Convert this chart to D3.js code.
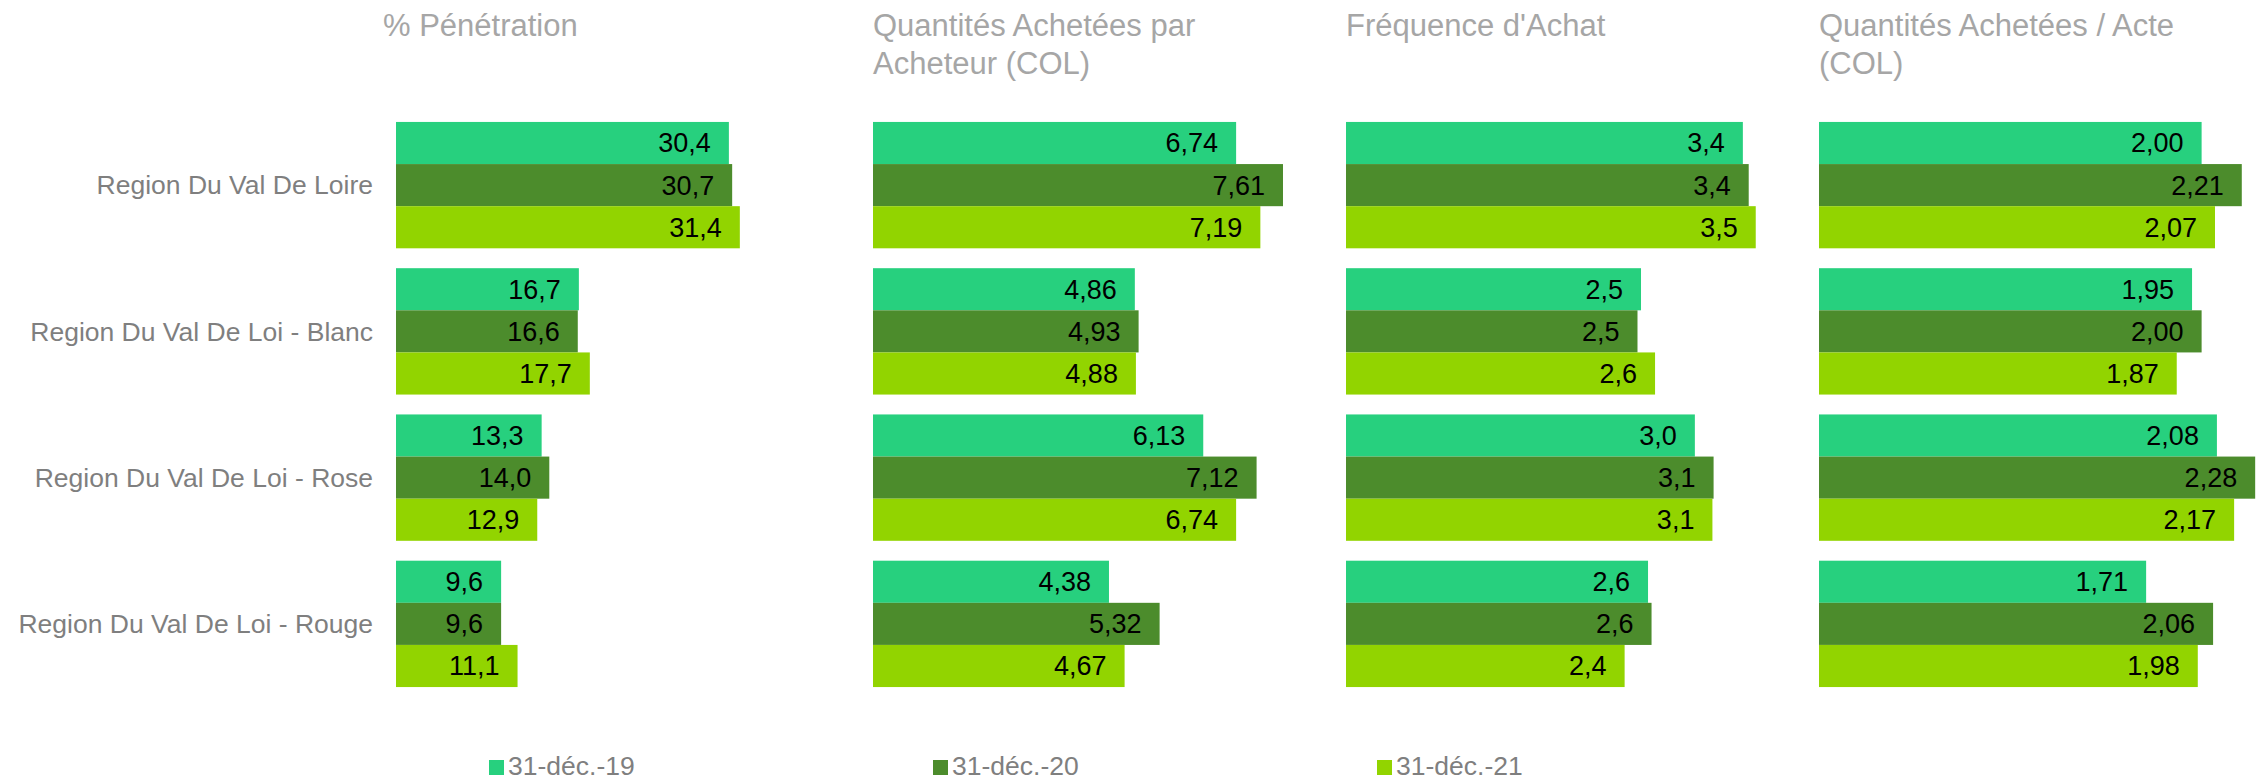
<!DOCTYPE html>
<html>
    <head>
        <meta charset="utf-8">
        <title>Pénétration et quantités</title>
        <style>
            body{
                margin:0;
                background:#fff;
            }
            text{
                font-family:"Liberation Sans", Arial, sans-serif;
            }
        </style>
    </head>
    <body>
        <script src="https://cdnjs.cloudflare.com/ajax/libs/d3/7.8.5/d3.min.js"></script>
        <script>

            // data
            var categories = ["Region Du Val De Loire", "Region Du Val De Loi - Blanc",
                              "Region Du Val De Loi - Rose", "Region Du Val De Loi - Rouge"];
            var seriesNames = ["31-déc.-19", "31-déc.-20", "31-déc.-21"];

            var titles = [["% Pénétration"],
                          ["Quantités Achetées par", "Acheteur (COL)"],
                          ["Fréquence d'Achat"],
                          ["Quantités Achetées / Acte", "(COL)"]];

            var pen19 = [30.4, 16.7, 13.3, 9.6];
            var pen20 = [30.7, 16.6, 14.0, 9.6];
            var pen21 = [31.4, 17.7, 12.9, 11.1];

            var qaa19 = [6.74, 4.86, 6.13, 4.38];
            var qaa20 = [7.61, 4.93, 7.12, 5.32];
            var qaa21 = [7.19, 4.88, 6.74, 4.67];

            var freq19 = [3.39, 2.52, 2.98, 2.58];
            var freq20 = [3.44, 2.49, 3.14, 2.61];
            var freq21 = [3.50, 2.64, 3.13, 2.38];

            var qac19 = [2.00, 1.95, 2.08, 1.71];
            var qac20 = [2.21, 2.00, 2.28, 2.06];
            var qac21 = [2.07, 1.87, 2.17, 1.98];

            var decimals = [1, 2, 1, 2];
            var axisMax = [40, 8, 3.75, 2.3];

            // layout
            var width = 2256, height = 782;
            var colors = ["#27d07e", "#4c8c2c", "#92d400"];
            var panelX = [396, 873, 1346, 1819];
            var panelW = [438, 431, 439, 440];
            var titleX = [383, 873, 1346, 1819];

            var panels = [
                [pen19, pen20, pen21],
                [qaa19, qaa20, qaa21],
                [freq19, freq20, freq21],
                [qac19, qac20, qac21]
            ];

            var svg = d3.select("body")
                    .append("svg")
                    .attr("width", width)
                    .attr("height", height);

            var y = d3.scaleBand()
                    .domain(categories)
                    .range([112, 697])
                    .paddingInner(0.136)
                    .paddingOuter(0.068);

            var ySeries = d3.scaleBand()
                    .domain(d3.range(seriesNames.length))
                    .range([0, y.bandwidth()]);

            // category labels
            svg.selectAll("text.cat")
                    .data(categories)
                    .enter()
                    .append("text")
                    .attr("class", "cat")
                    .attr("x", 373)
                    .attr("y", function(d) { return y(d) + y.bandwidth() / 2; })
                    .attr("dy", "0.35em")
                    .attr("text-anchor", "end")
                    .attr("font-size", 26.5)
                    .attr("fill", "#7f7f7f")
                    .text(function(d) { return d; });

            panels.forEach(function(series, p) {

              var x = d3.scaleLinear()
                      .domain([0, axisMax[p]])
                      .range([panelX[p], panelX[p] + panelW[p]]);

              var fmt = function(v) {
                return v.toFixed(decimals[p]).replace(".", ",");
              };

              var g = svg.append("g");

              g.selectAll("text.title")
                      .data(titles[p])
                      .enter()
                      .append("text")
                      .attr("class", "title")
                      .attr("x", titleX[p])
                      .attr("y", function(d, i) { return 36 + i * 38; })
                      .attr("font-size", 31)
                      .attr("fill", "#a6a6a6")
                      .text(function(d) { return d; });

              var rows = [];
              categories.forEach(function(c, ci) {
                series.forEach(function(s, si) {
                  rows.push({cat: c, s: si, v: s[ci]});
                });
              });

              g.selectAll("rect")
                      .data(rows)
                      .enter()
                      .append("rect")
                      .attr("x", x(0))
                      .attr("y", function(d) { return y(d.cat) + ySeries(d.s); })
                      .attr("width", function(d) { return x(d.v) - x(0); })
                      .attr("height", ySeries.bandwidth())
                      .attr("fill", function(d) { return colors[d.s]; });

              g.selectAll("text.lbl")
                      .data(rows)
                      .enter()
                      .append("text")
                      .attr("class", "lbl")
                      .attr("x", function(d) { return x(d.v) - 18; })
                      .attr("y", function(d) { return y(d.cat) + ySeries(d.s) + ySeries.bandwidth() / 2; })
                      .attr("dy", "0.35em")
                      .attr("text-anchor", "end")
                      .attr("font-size", 27)
                      .attr("fill", "#000")
                      .text(function(d) { return fmt(d.v); });
            });

            // legend
            var legendX = d3.scalePoint()
                    .domain(seriesNames)
                    .range([489, 1377]);

            var legend = svg.selectAll("g.leg")
                    .data(seriesNames)
                    .enter()
                    .append("g")
                    .attr("class", "leg")
                    .attr("transform", function(d) { return "translate(" + legendX(d) + ",0)"; });

            legend.append("rect")
                    .attr("x", 0)
                    .attr("y", 760)
                    .attr("width", 15)
                    .attr("height", 15)
                    .attr("fill", function(d, i) { return colors[i]; });

            legend.append("text")
                    .attr("x", 19)
                    .attr("y", 775)
                    .attr("font-size", 26.5)
                    .attr("fill", "#7f7f7f")
                    .text(function(d) { return d; });

        </script>
    </body>
</html>
